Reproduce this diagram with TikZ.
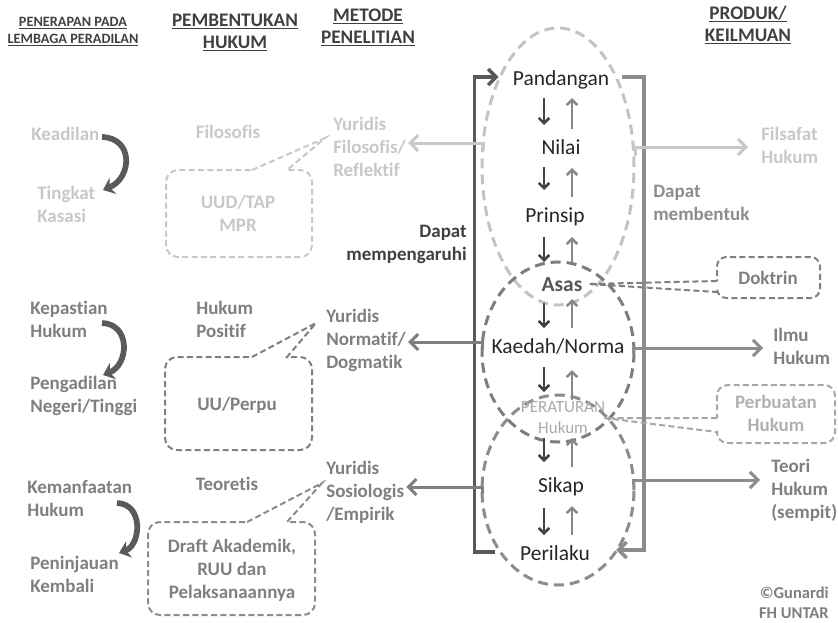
\documentclass[tikz,border=0pt]{standalone}
\usepackage{fontspec}
\setmainfont{Carlito}[Ligatures={NoCommon}]
\usetikzlibrary{arrows.meta,calc}
\definecolor{cLight}{RGB}{200,200,200}
\definecolor{cMid}{RGB}{127,127,127}
\definecolor{cMid2}{RGB}{140,140,140}
\definecolor{cDark}{RGB}{64,64,64}
\definecolor{cAsas}{RGB}{85,85,85}
\definecolor{cPer}{RGB}{170,170,170}
\definecolor{cPb}{RGB}{176,176,176}
\definecolor{cPbLine}{RGB}{166,166,166}
\definecolor{cLBr}{RGB}{89,89,89}
\definecolor{cRBr}{RGB}{140,140,140}
\definecolor{cDn}{RGB}{68,68,68}
\definecolor{cUp}{RGB}{136,136,136}
\definecolor{cEllTop}{RGB}{195,195,195}
\definecolor{cEllMid}{RGB}{125,125,125}
\definecolor{cEllBot}{RGB}{140,140,140}
\definecolor{cCurve}{RGB}{90,90,90}
\begin{document}
\begin{tikzpicture}[x=0.75pt,y=-0.75pt,
  lbl/.style={inner sep=0pt, font=\fontsize{14.25pt}{17.25pt}\selectfont\bfseries, align=left, anchor=base west},
  lblc/.style={lbl, align=center, anchor=base},
  ctr/.style={inner sep=0pt, font=\fontsize{16.1pt}{19pt}\selectfont, anchor=base, text=black!85},
  hdr/.style={inner sep=0pt, font=\fontsize{14.4pt}{16.5pt}\selectfont\bfseries, align=center, anchor=base, text=cDark},
  hdrs/.style={inner sep=0pt, font=\fontsize{10.7pt}{12.75pt}\selectfont\bfseries, align=center, anchor=base, text=cDark},
  callout/.style={line width=1.5pt, dash pattern=on 4.5pt off 2.5pt},
  ell/.style={line width=2.25pt, dash pattern=on 7.5pt off 4.5pt},
  conn/.style={line width=2.25pt, -{Straight Barb[length=6pt,width=12pt,line width=2.25pt]}},
  brk/.style={line width=2.6pt, -{Straight Barb[length=6pt,width=12pt,line width=2.6pt]}},
  dn/.style={line width=1.9pt, color=cDn, -{Straight Barb[length=4pt,width=8pt,line width=1.9pt]}},
  upa/.style={line width=1.9pt, color=cUp, -{Straight Barb[length=4pt,width=8pt,line width=1.9pt]}},
  curv/.style={line width=4.3pt, color=cCurve, -{Stealth[length=8pt,width=13pt,inset=2.5pt]}}
]
\useasboundingbox (0,0) rectangle (838,622);

% headers (anchor = baseline of the last line)
\node[hdrs] (h1) at (73,43) {\underline{PENERAPAN PADA}\\\underline{LEMBAGA PERADILAN}};
\node[hdr] (h2) at (235,48) {\underline{PEMBENTUKAN}\\\underline{HUKUM}};
\node[hdr] (h3) at (368,43) {\underline{METODE}\\\underline{PENELITIAN}};
\node[hdr] (h4) at (748,41) {\underline{PRODUK/}\\\underline{KEILMUAN}};

% ellipses
\draw[ell, cEllTop] (558,166.5) ellipse [x radius=57pt, y radius=103.9pt];
\draw[ell, cEllMid] (558,352) ellipse [x radius=57pt, y radius=67.5pt];
\draw[ell, cEllBot] (558,490) ellipse [x radius=57pt, y radius=71.25pt];

% left column
\node[lbl, text=cLight] (kead) at (31,140) {Keadilan};
\node[lbl, text=cLight] (tk) at (37,222) {Tingkat\\Kasasi};
\node[lbl, text=cMid] (kep) at (30,337) {Kepastian\\Hukum};
\node[lbl, text=cMid] (peng) at (30,412) {Pengadilan\\Negeri/Tinggi};
\node[lbl, text=cMid] (kem) at (27,516) {Kemanfaatan\\Hukum};
\node[lbl, text=cMid] (pen) at (30,592) {Peninjauan\\Kembali};

% second column
\node[lblc, text=cLight] (filo) at (228,138) {Filosofis};
\node[lblc, text=cLight] (uud) at (238,231) {UUD/TAP\\MPR};
\node[lbl, text=cMid] (hp) at (196,337) {Hukum\\Positif};
\node[lblc, text=cMid] (uu) at (237,410) {UU/Perpu};
\node[lblc, text=cMid] (teo) at (227,490) {Teoretis};
\node[lblc, text=cMid] (draft) at (232,598) {Draft Akademik,\\RUU dan\\Pelaksanaannya};

% third column
\node[lbl, text=cLight] (y1) at (333,176) {Yuridis\\Filosofis/\\Reflektif};
\node[lbl, text=cMid] (y2) at (326,368) {Yuridis\\Normatif/\\Dogmatik};
\node[lbl, text=cMid] (y3) at (326,520) {Yuridis\\Sosiologis\\/Empirik};

% side texts of bracket
\node[lbl, align=right, anchor=base east, text=cDark] (dm) at (467,260) {Dapat\\mempengaruhi};
\node[lbl, text=cMid2] (db) at (653,220) {Dapat\\membentuk};

% center
\node[ctr] (pand) at (561,85) {Pandangan};
\node[ctr] (nilai) at (561,154) {Nilai};
\node[ctr] (prin) at (555,222) {Prinsip};
\node[ctr, font=\fontsize{16.1pt}{19pt}\selectfont\bfseries, text=cAsas] (asas) at (562,291) {Asas};
\node[ctr] (kaedah) at (558,353) {Kaedah/Norma};
\node[ctr, font=\fontsize{12.75pt}{15.75pt}\selectfont, text=cPer, align=center] (per) at (563,433) {PERATURAN\\Hukum};
\node[ctr] (sikap) at (561,492) {Sikap};
\node[ctr] (peril) at (555,560) {Perilaku};

% right column
\node[lbl, text=cLight] (fh) at (761,163) {Filsafat\\Hukum};
\node[lbl, text=cMid] (ih) at (773,364) {Ilmu\\Hukum};
\node[lbl, text=cMid] (th) at (771,518) {Teori\\Hukum\\(sempit)};
\node[lblc, text=cMid] (dok) at (768,284) {Doktrin};
\node[lblc, text=cPb] (pb) at (776,431) {Perbuatan\\Hukum};
\node[lbl, align=right, anchor=base east, text=cMid, font=\fontsize{12.4pt}{15pt}\selectfont\bfseries] (cr) at (829,618) {©Gunardi\\FH UNTAR};

% small arrows
\coordinate (dx) at (544,0);
\coordinate (ux) at (572,0);
\draw[dn]  ($(pand.base -| dx)+(0,13)$) -- ($(nilai.base -| dx)+(0,-29)$);
\draw[upa] ($(nilai.base -| ux)+(0,-25)$) -- ($(pand.base -| ux)+(0,13)$);
\draw[dn]  ($(nilai.base -| dx)+(0,13)$) -- ($(prin.base -| dx)+(0,-32)$);
\draw[upa] ($(prin.base -| ux)+(0,-25)$) -- ($(nilai.base -| ux)+(0,14)$);
\draw[dn]  ($(prin.base -| dx)+(0,15)$) -- ($(asas.base -| dx)+(0,-29)$);
\draw[upa] ($(asas.base -| ux)+(0,-29)$) -- ($(prin.base -| ux)+(0,15)$);
\draw[dn]  ($(asas.base -| dx)+(0,12)$) -- ($(kaedah.base -| dx)+(0,-25)$);
\draw[upa] ($(kaedah.base -| ux)+(0,-25)$) -- ($(asas.base -| ux)+(0,8)$);
\draw[dn]  ($(kaedah.base -| dx)+(0,14)$) -- ($(per.base -| dx)+(0,-41)$);
\draw[upa] ($(per.base -| ux)+(0,-33)$) -- ($(kaedah.base -| ux)+(0,17)$);
\draw[dn]  ($(per.base -| dx)+(0,5)$) -- ($(sikap.base -| dx)+(0,-30)$);
\draw[upa] ($(sikap.base -| ux)+(0,-25)$) -- ($(per.base -| ux)+(0,5)$);
\draw[dn]  ($(sikap.base -| dx)+(0,16)$) -- ($(peril.base -| dx)+(0,-25)$);
\draw[upa] ($(peril.base -| ux)+(0,-25)$) -- ($(sikap.base -| ux)+(0,14)$);

% brackets
\coordinate (pin) at ($(pand.base west)+(-14,-8)$);
\coordinate (pout) at ($(pand.base east)+(13,-8)$);
\coordinate (lin) at ($(peril.base west)+(-25,-8)$);
\coordinate (rin) at ($(peril.base east)+(26,-10)$);
\draw[brk, cLBr] (lin) -| ($(pin)+(-24,0)$) -- (pin);
\draw[brk, cRBr] (pout) -| ($(rin)+(28,0)$) -- (rin);

% horizontal connectors
\coordinate (e1) at (483,150);
\coordinate (e2) at (482,350);
\coordinate (e3) at (482,494);
\draw[conn, cLight] (e1) -- ++(0,-7) -- ($(e1 -| y1.east)+(2,-7)$);
\draw[conn, cMid] (e2) -- ++(0,-8) -- ($(e2 -| y2.east)+(2,-8)$);
\draw[conn, cMid] (e3) -- ++(0,-7) -- ($(e3 -| y3.east)+(2,-7)$);
\coordinate (f1) at (635,156);
\coordinate (f2) at (633,353);
\coordinate (f3) at (633,485);
\draw[conn, cLight] (f1) -- ++(0,-9) -- ($(f1 -| fh.west)+(-13,-9)$);
\draw[conn, cMid2] (f2) -- ++(0,-5) -- ($(f2 -| ih.west)+(-10,-5)$);
\draw[conn, cMid2] (f3) -- ++(0,-5) -- ($(f3 -| th.west)+(-11,-5)$);

% callouts
\draw[callout, cLight] (252,170) -- ($(y1.base west)+(-8,-38)$) -- (287,170)
  [rounded corners=9] -- (312,170) -- (312,257) -- (166,257) -- (166,170) -- (252,170);
\draw[callout, cMid] (252,357) -- ($(y2.base west)+(-10,-45)$) -- (287,357)
  [rounded corners=9] -- (312,357) -- (312,450) -- (165,450) -- (165,357) -- (252,357);
\draw[callout, cMid2] (247,522) -- ($(y3.base west)+(-4,-37)$) -- (287,522)
  [rounded corners=9] -- (315,522) -- (315,615) -- (148,615) -- (148,522) -- (247,522);
\draw[callout, cMid] (717,281) -- ($(asas.base east)+(6,-7)$) -- (717,292)
  [rounded corners=7] -- (717,298) -- (820,298) -- (820,257) -- (717,257) -- (717,281);
\draw[callout, cPbLine] (717,418) -- ($(per.base east)+(-1,-15)$) -- (717,432)
  [rounded corners=8] -- (717,443) -- (835,443) -- (835,385) -- (717,385) -- (717,418);

% curved arrows
\draw[curv] ($(kead.base west)+(71,-3)$) .. controls (134,138) and (132,178) .. ($(tk.base west)+(66,-32)$);
\draw[curv] ($(kep.base west)+(72,-14)$) .. controls (131,324) and (129,365) .. ($(peng.base west)+(73,-37)$);
\draw[curv] ($(kem.base west)+(90,-13)$) .. controls (144,504) and (141,545) .. ($(pen.base west)+(89,-39)$);
\end{tikzpicture}
\end{document}
